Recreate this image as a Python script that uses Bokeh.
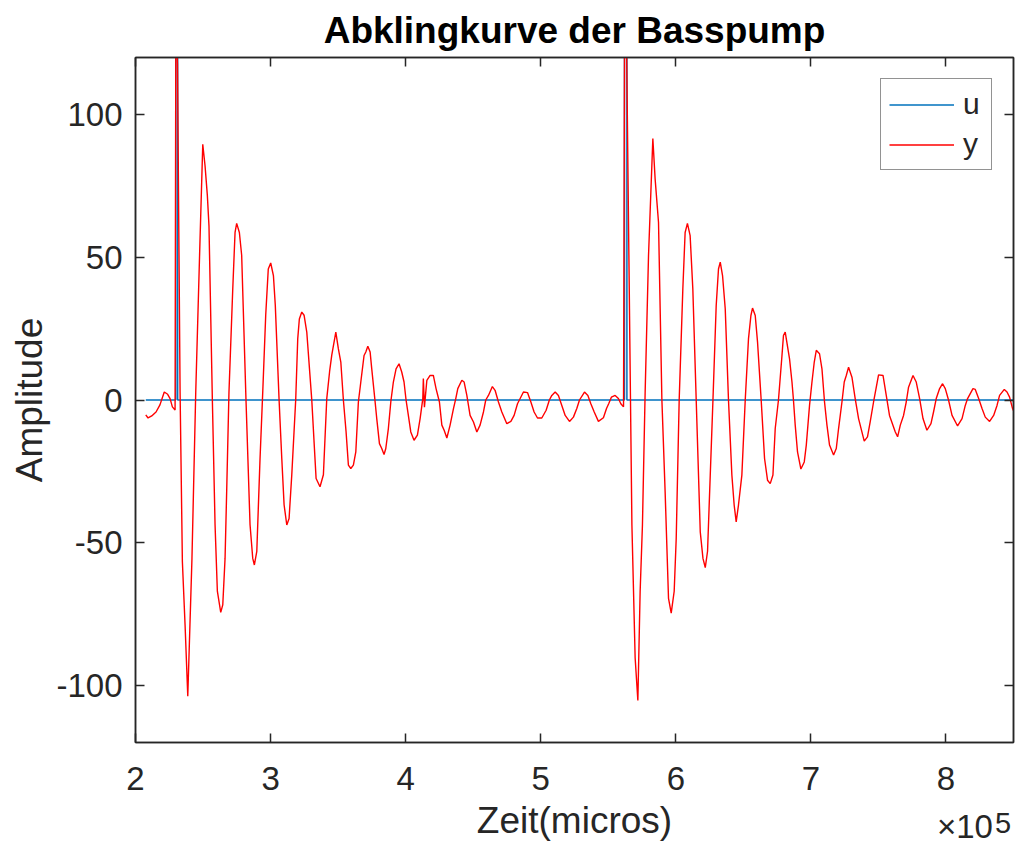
from bokeh.plotting import figure
from bokeh.models import (Range1d, LinearAxis, FixedTicker, CustomJSTickFormatter,
                          Legend, LegendItem, Div)
from bokeh.layouts import column
from bokeh.embed import file_html
from bokeh.resources import INLINE

# ---------------- data (time in microseconds) ----------------
title_text = "Abklingkurve der Basspump"
x_label = "Zeit(micros)"
y_label = "Amplitude"
x_ticks = [200000, 300000, 400000, 500000, 600000, 700000, 800000]
y_ticks = [-100, -50, 0, 50, 100]
x_exponent = 5

# input pulse u
t_u = [207600, 229800, 229800, 231200, 231200, 562000, 562000, 563800, 563800, 852100]
u = [0, 0, 200, 200, 0, 0, 200, 200, 0, 0]

# response y
t_y = [207600, 209300, 212000, 215200, 218100, 221300, 223800, 225600, 227300, 229300,
       229900, 231100, 233000, 234700, 236700, 238700, 240900, 241800, 244600, 247400,
       249800, 251500, 253200, 254400, 256900, 258900, 260600, 263100, 264600, 266300,
       267500, 269200, 272000, 273700, 274900, 276900, 278600, 281800, 284800, 286800,
       288000, 289800, 292200, 294200, 296400, 298300, 300100, 302100, 303500, 306300,
       308300, 310000, 312000, 313700, 315700, 318600, 320100, 321300, 323100, 324800,
       326800, 330500, 332200, 333700, 336600, 339100, 341600, 343700, 345300, 348300,
       350200, 352000, 353900, 355900, 357600, 359400, 361300, 363100, 365000, 366800,
       369200, 370500, 372000, 373700, 374900, 377400, 378600, 380600, 382300, 384000,
       385300, 387200, 389000, 390900, 392900, 395100, 397100, 398800, 400300, 402000,
       403800, 406200, 408700, 410700, 412700, 413100, 413900, 415700, 418100, 420500,
       422500, 425000, 426800, 428500, 430500, 432900, 435400, 437100, 438600, 441600,
       443300, 445300, 447700, 450200, 452700, 455100, 457600, 459300, 461300, 464200,
       466200, 468700, 471200, 474900, 477900, 480300, 482800, 487200, 490200, 492700,
       495100, 497600, 500800, 504000, 506400, 508200, 510700, 513100, 515600, 518100,
       521300, 524200, 526700, 528700, 532400, 534900, 537100, 539600, 542700, 546400,
       548700, 550300, 552300, 555100, 557500, 559300, 561300, 562100, 563600, 566400,
       567500, 569900, 571900, 573600, 575300, 577300, 579800, 583000, 584700, 587200,
       589700, 592100, 594600, 596600, 598800, 600300, 602500, 605200, 606900, 608600,
       610600, 612600, 615100, 618100, 620100, 621800, 623500, 625500, 627500, 629900,
       631600, 632900, 634600, 636600, 639000, 641500, 643200, 644700, 646400, 648900,
       651400, 653800, 655600, 656800, 658800, 660500, 663200, 665700, 667900, 669900,
       671900, 673600, 676000, 678600, 679700, 681000, 684200, 686000, 687100, 688400,
       690100, 692600, 695100, 696600, 699000, 700800, 702500, 704000, 706400, 708200,
       710100, 711900, 713800, 716800, 718800, 720500, 723000, 724700, 726200, 727900,
       730400, 732800, 735300, 739500, 741900, 743900, 746400, 750100, 753400, 755800,
       758200, 762500, 764200, 766200, 768600, 770600, 772300, 775600, 778000, 780500,
       783000, 785900, 788900, 790800, 792800, 795300, 797500, 799500, 801900, 804500,
       808600, 811900, 814300, 816000, 820000, 821700, 824200, 826700, 829100, 832300,
       835300, 837800, 839700, 843200, 845200, 847100, 849300, 852100]
y = [-5.2, -6.3, -5.6, -4.2, -1.7, 2.8, 2.0, 0.5, -2.4, -3.5,
     140.0, 117.6, 3.0, -56.6, -78.8, -103.8, -69.5, -55.5, 2.8, 50.0,
     89.6, 82.0, 71.6, 61.0, 0.0, -43.8, -67.0, -74.4, -71.8, -55.5,
     -32.0, 2.8, 38.9, 58.7, 61.9, 58.7, 50.7, 0.0, -43.7, -55.5,
     -57.8, -53.0, -20.5, 2.8, 29.7, 45.9, 48.0, 43.6, 33.1, 0.0,
     -20.5, -36.7, -43.8, -41.5, -26.2, 0.0, 21.4, 28.4, 30.8, 29.7,
     23.8, 0.0, -14.7, -27.5, -30.4, -26.2, 0.5, 10.0, 15.7, 23.8,
     17.9, 13.3, 0.0, -11.2, -22.8, -24.0, -22.8, -18.2, -0.7, 6.3,
     15.6, 16.8, 18.8, 16.8, 10.9, -0.7, -6.5, -15.3, -17.0, -19.1,
     -17.0, -10.0, -0.7, 6.3, 10.9, 12.7, 9.8, 6.3, 0.0, -5.4,
     -11.2, -14.1, -12.3, -6.5, 0.5, 7.5, -2.5, 6.9, 8.6, 8.6,
     4.0, -0.7, -8.8, -10.6, -13.3, -8.8, -3.0, 0.5, 4.0, 6.9,
     6.3, 1.6, -5.4, -7.7, -11.2, -8.8, -4.2, 0.0, 1.6, 4.7,
     3.4, -0.7, -4.2, -8.3, -7.5, -5.4, -1.3, 2.8, 2.6, -0.7,
     -4.2, -6.3, -6.3, -3.6, 0.0, 1.6, 2.8, 1.6, -1.9, -5.4,
     -7.5, -6.0, -3.0, 0.0, 2.8, 1.6, -1.3, -4.2, -7.5, -6.2,
     -3.0, -1.3, 1.0, 1.6, 0.5, -1.3, -2.4, 135.0, 122.0, 2.0,
     -43.8, -90.4, -105.3, -67.0, -43.8, 2.8, 50.6, 91.6, 77.4, 62.2,
     0.0, -32.2, -69.5, -74.7, -67.0, -48.5, 0.0, 38.9, 58.7, 61.9,
     57.6, 38.9, 0.0, -46.2, -55.5, -58.7, -53.0, -26.3, 0.0, 33.1,
     45.9, 48.3, 43.6, 31.9, 0.0, -26.3, -36.8, -42.7, -36.8, -26.3,
     0.0, 21.4, 29.6, 32.2, 29.6, 20.3, 0.0, -20.5, -28.1, -29.3,
     -26.3, -10.0, 0.0, 15.6, 22.6, 23.8, 14.4, 6.3, 0.0, -8.8,
     -18.2, -24.2, -21.7, -15.8, -1.9, 6.3, 13.3, 17.4, 16.2, 10.9,
     -0.7, -8.8, -15.8, -19.3, -17.0, -10.0, -0.7, 6.3, 8.6, 11.5,
     8.0, 0.5, -6.5, -14.4, -12.9, -7.7, -0.7, 8.8, 8.6, 1.6,
     -5.4, -11.2, -12.9, -8.8, -5.4, -0.7, 4.5, 8.6, 6.3, 0.5,
     -6.5, -10.6, -8.3, -4.2, 0.5, 4.0, 5.7, 4.0, 0.0, -5.4,
     -9.1, -6.5, -1.9, 0.5, 4.0, 3.7, 0.5, -3.0, -6.0, -7.5,
     -5.4, -1.9, 1.6, 3.7, 2.8, 1.0, -3.0, -6.0]

# ---------------- styling ----------------
FONT = "Liberation Sans"
AX = "#262626"
BLUE = "#0072BD"
RED = "#FF0000"

p = figure(width=1016, height=843,
           output_backend="svg", toolbar_location=None,
           x_range=Range1d(200000, 850000), y_range=Range1d(-120, 120),
           min_border_left=135, min_border_right=3, min_border_top=55,
           min_border_bottom=101,
           background_fill_color="white", border_fill_color="white")

p.title.text = title_text
p.title.text_font = FONT
p.title.text_font_size = "37px"
p.title.text_font_style = "bold"
p.title.text_color = "black"
p.title.align = "center"
p.title.standoff = 14

p.outline_line_color = AX
p.outline_line_width = 1.5
p.xgrid.visible = False
p.ygrid.visible = False


def style(ax):
    ax.axis_line_color = AX
    ax.axis_line_width = 1.5
    ax.major_tick_line_color = AX
    ax.major_tick_line_width = 1.5
    ax.major_tick_in = 9
    ax.major_tick_out = 0
    ax.minor_tick_line_color = None
    ax.major_label_text_font = FONT
    ax.major_label_text_color = AX
    ax.axis_label_text_font = FONT
    ax.axis_label_text_color = AX
    ax.axis_label_text_font_style = "normal"


xa = p.xaxis[0]
style(xa)
xa.ticker = FixedTicker(ticks=x_ticks, minor_ticks=[])
xa.formatter = CustomJSTickFormatter(code="return (tick / 1e%d).toString();" % x_exponent)
xa.major_label_text_font_size = "33px"
xa.major_label_standoff = 24
xa.axis_label = x_label
xa.axis_label_text_font_size = "37px"
xa.axis_label_standoff = 7

ya = p.yaxis[0]
style(ya)
ya.ticker = FixedTicker(ticks=y_ticks, minor_ticks=[])
ya.formatter = CustomJSTickFormatter(code="return tick.toString();")
ya.major_label_text_font_size = "33px"
ya.major_label_standoff = 13
ya.axis_label = y_label
ya.axis_label_text_font_size = "37px"
ya.axis_label_standoff = 3

# mirrored ticks on the top and right edges (no labels)
top = LinearAxis(ticker=FixedTicker(ticks=x_ticks, minor_ticks=[]))
style(top)
top.major_label_text_font_size = "1px"
top.major_label_text_color = None
top.major_label_standoff = 0
p.add_layout(top, "above")

right = LinearAxis(ticker=FixedTicker(ticks=y_ticks, minor_ticks=[]))
style(right)
right.major_label_text_font_size = "1px"
right.major_label_text_color = None
right.major_label_standoff = 0
p.add_layout(right, "right")

r_u = p.line(t_u, u, line_color=BLUE, line_width=1.5)
r_y = p.line(t_y, y, line_color=RED, line_width=1.4)

legend = Legend(items=[LegendItem(label="u", renderers=[r_u]),
                       LegendItem(label="y", renderers=[r_y])],
                location="top_right", margin=21, padding=8, spacing=6,
                glyph_width=65, glyph_height=33, label_height=33, label_standoff=9,
                label_text_font=FONT, label_text_font_size="30px", label_text_color=AX,
                border_line_color=AX, border_line_width=1.3,
                background_fill_color="white", background_fill_alpha=1.0)
p.add_layout(legend, "center")

# axis exponent, MATLAB style, under the right end of the x axis
exp_div = Div(
    text=("\u00d710<span style='font-size:29px; position:relative; top:-5px; "
          "margin-left:2px;'>%d</span>") % x_exponent,
    width=82, height=32,
    styles={"position": "absolute", "left": "932px", "top": "806px",
            "font-family": FONT, "font-size": "33px", "line-height": "32px",
            "color": AX, "white-space": "nowrap", "overflow": "visible"})

layout = column(p, exp_div)
open("out.html", "w").write(file_html(layout, INLINE))
